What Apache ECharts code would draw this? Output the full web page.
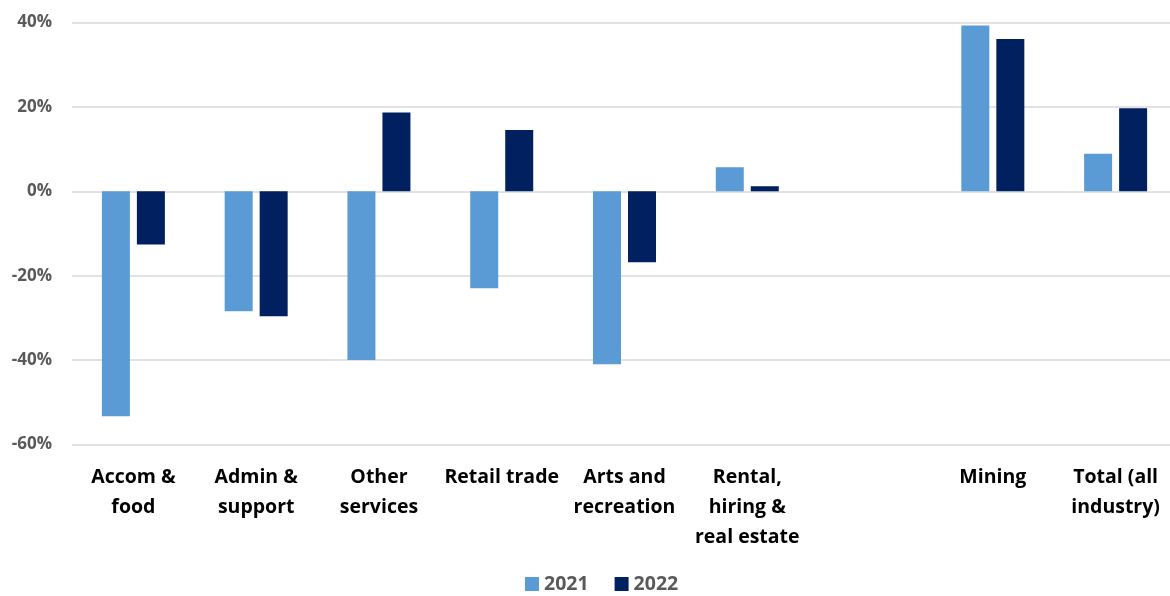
<!DOCTYPE html>
<html><head><meta charset="utf-8">
<script src="https://cdn.jsdelivr.net/npm/echarts@6/dist/echarts.min.js"></script>
<style>html,body{margin:0;padding:0;background:#fff;overflow:hidden;width:1170px;height:596px}#c{width:1177px;height:596px}</style>
</head><body><div id="c"></div>
<script>
const categories = ['Accom &\nfood','Admin &\nsupport','Other\nservices','Retail trade','Arts and\nrecreation','Rental,\nhiring &\nreal estate','','Mining','Total (all\nindustry)'];
const s2021 = [-53.3, -28.4, -40.0, -23.0, -41.0, 5.7, null, 39.3, 8.9];
const s2022 = [-12.6, -29.6, 18.7, 14.5, -16.8, 1.2, null, 36.1, 19.7];
const yTicks = [-60, -40, -20, 0, 20, 40];

const FONT = "'Open Sans', sans-serif";
const chart = echarts.init(document.getElementById('c'));
chart.setOption({
  animation: false,
  grid: {left: 72, right: 0, top: 22.5, bottom: 151.5, containLabel: false},
  legend: {
    bottom: -3, left: 520, itemWidth: 14, itemHeight: 14, itemGap: 26,
    icon: 'rect',
    textStyle: {fontFamily: FONT, fontWeight: 'bold', fontSize: 19.5, color: '#595959'},
    data: ['2021','2022']
  },
  xAxis: {
    type: 'category', data: categories,
    axisLine: {show: false}, axisTick: {show: false},
    axisLabel: {interval: 0, margin: 18, fontFamily: FONT, fontWeight: 'bold', fontSize: 19.5, color: '#000', lineHeight: 30}
  },
  yAxis: {
    type: 'value', min: yTicks[0], max: yTicks[yTicks.length-1], interval: 20,
    axisLine: {show: false}, axisTick: {show: false},
    splitLine: {lineStyle: {color: '#d9d9d9', width: 1.5}},
    axisLabel: {formatter: v => v + '%', margin: 20, fontFamily: FONT, fontWeight: 'bold', fontSize: 17, color: '#595959'}
  },
  series: [
    {name: '2021', type: 'bar', data: s2021, barWidth: 28, barGap: '25%', itemStyle: {color: '#5b9bd5'}},
    {name: '2022', type: 'bar', data: s2022, barWidth: 28, barGap: '25%', itemStyle: {color: '#002060'}}
  ]
});
</script></body></html>
